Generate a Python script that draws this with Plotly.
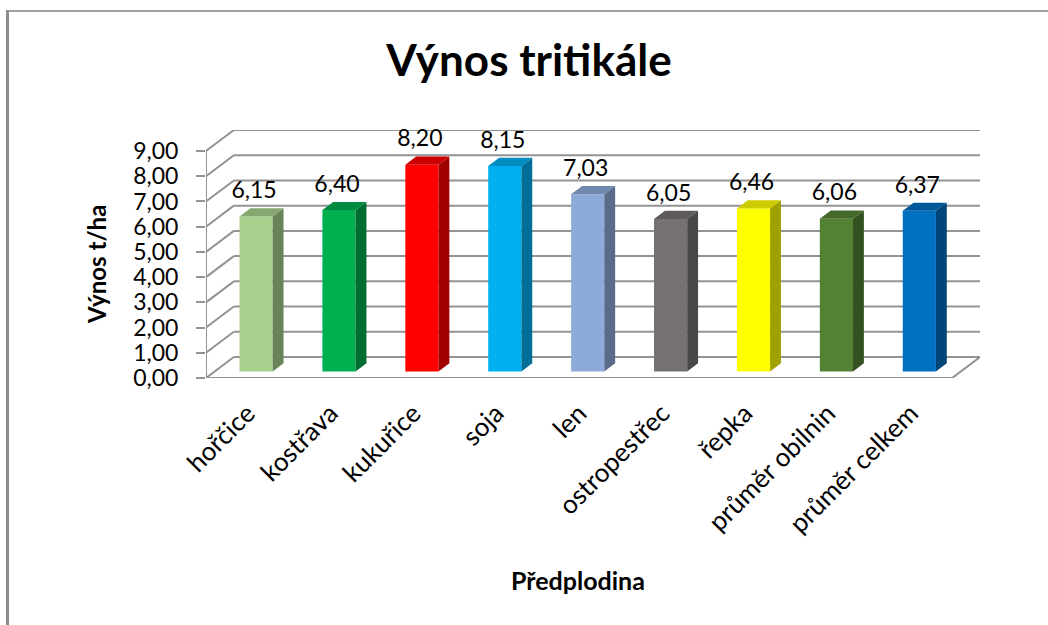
import plotly.graph_objects as go

# chart data
categories = ["hořčice", "kostřava", "kukuřice", "soja", "len", "ostropestřec",
              "řepka", "průměr obilnin", "průměr celkem"]
values = [6.15, 6.40, 8.20, 8.15, 7.03, 6.05, 6.46, 6.06, 6.37]
colors = ["#A9D18E", "#00B050", "#FF0000", "#00B0F0", "#8EAADB",
          "#767171", "#FFFF00", "#548235", "#0070C0"]
y_ticks = [0, 1, 2, 3, 4, 5, 6, 7, 8, 9]

FONT = "Lato"
GRID = "#939393"

# 3D look: how far the back wall is shifted from the front plane (in axis units)
DEPTH_X = 0.336
DEPTH_Y = 0.833
BAR_FRONT = 0.31
BAR_BACK = 0.70
BAR_WIDTH = 0.40

# pixel box of the front axes + depth
L, R, T, B = 206, 980, 130, 378
W, H = 1048, 625


def shade(hex_color, k):
    r, g, b = [int(hex_color[i:i + 2], 16) for i in (1, 3, 5)]
    return f"rgb({int(r * k)},{int(g * k)},{int(b * k)})"


def grid_line(x0, y0, x1, y1):
    return dict(type="line", layer="below", xref="x", yref="y", x0=x0, y0=y0, x1=x1, y1=y1,
                line=dict(color=GRID, width=2))


def paper_line(x0, y0, x1, y1, color, width):
    return dict(type="line", xref="paper", yref="paper",
                x0=(x0 - L) / (R - L), x1=(x1 - L) / (R - L),
                y0=(B - y0) / (B - T), y1=(B - y1) / (B - T),
                line=dict(color=color, width=width))


fig = go.Figure()

n = len(categories)
centers = [i + 0.5 for i in range(n)]
front_x = [c + BAR_FRONT * DEPTH_X for c in centers]
front_y = BAR_FRONT * DEPTH_Y
back_dx = (BAR_BACK - BAR_FRONT) * DEPTH_X
back_dy = (BAR_BACK - BAR_FRONT) * DEPTH_Y

# front faces
fig.add_trace(go.Bar(
    x=front_x,
    y=values,
    base=[front_y] * n,
    width=BAR_WIDTH,
    marker=dict(color=colors, line=dict(width=0)),
    hoverinfo="skip",
    showlegend=False
))

# side and top faces
for x, v, c in zip(front_x, values, colors):
    right = x + BAR_WIDTH / 2
    left = x - BAR_WIDTH / 2
    top = front_y + v
    fig.add_trace(go.Scatter(
        x=[right, right + back_dx, right + back_dx, right, right],
        y=[front_y, front_y + back_dy, top + back_dy, top, front_y],
        mode="lines", fill="toself", fillcolor=shade(c, 0.63),
        line=dict(width=0), hoverinfo="skip", showlegend=False
    ))
    fig.add_trace(go.Scatter(
        x=[left, right, right + back_dx, left + back_dx, left],
        y=[top, top, top + back_dy, top + back_dy, top],
        mode="lines", fill="toself", fillcolor=shade(c, 0.8),
        line=dict(width=0), hoverinfo="skip", showlegend=False
    ))

# value labels
fig.add_trace(go.Scatter(
    x=[c + 0.08 for c in centers],
    y=[front_y + v + 0.95 for v in values],
    text=[f"{v:.2f}".replace(".", ",") for v in values],
    mode="text",
    textposition="middle center",
    textfont=dict(family=FONT, size=23, color="#000000"),
    cliponaxis=False,
    hoverinfo="skip",
    showlegend=False
))

# walls and floor
shapes = []
for t in y_ticks:
    shapes.append(grid_line(0, t, DEPTH_X, t + DEPTH_Y))
    shapes.append(grid_line(DEPTH_X, t + DEPTH_Y, n + DEPTH_X, t + DEPTH_Y))
shapes.append(grid_line(0, 0, 0, y_ticks[-1]))
shapes.append(grid_line(0, 0, n, 0))
shapes.append(grid_line(n, 0, n + DEPTH_X, DEPTH_Y))

# chart border (top and left only are in the picture)
shapes.append(paper_line(7.5, 11, W, 11, "#A0A0A0", 2))
shapes.append(paper_line(7.5, 10, 7.5, H, "#8C8C8C", 3))

fig.update_layout(
    width=W,
    height=H,
    plot_bgcolor="white",
    paper_bgcolor="white",
    margin=dict(l=L, r=W - R, t=T, b=H - B, pad=0),
    separators=", ",
    font=dict(family=FONT, color="#000000"),
    title=dict(
        text="<b>Výnos tritikále</b>",
        x=529 / W,
        xanchor="center",
        y=1 - 61 / H,
        yanchor="middle",
        font=dict(family=FONT, size=44, color="#000000")
    ),
    shapes=shapes,
    annotations=[
        dict(text="<b>Výnos t/ha</b>", textangle=-90, showarrow=False,
             xref="paper", yref="paper", x=(96 - L) / (R - L), y=(B - 265) / (B - T),
             xanchor="center", yanchor="middle",
             font=dict(family=FONT, size=24)),
        dict(text="<b>Předplodina</b>", showarrow=False,
             xref="paper", yref="paper", x=(578 - L) / (R - L), y=(B - 580) / (B - T),
             xanchor="center", yanchor="middle",
             font=dict(family=FONT, size=25)),
    ],
    showlegend=False
)

fig.update_xaxes(
    range=[0, n + DEPTH_X],
    tickmode="array",
    tickvals=centers,
    ticktext=categories,
    tickangle=-45,
    ticks="",
    ticklabelstandoff=14,
    showgrid=False,
    zeroline=False,
    showline=False,
    tickfont=dict(family=FONT, size=26, color="#000000")
)
fig.update_yaxes(
    range=[0, y_ticks[-1] + DEPTH_Y],
    tickmode="array",
    tickvals=y_ticks,
    tickformat=".2f",
    ticks="outside",
    ticklen=9,
    tickwidth=2,
    tickcolor=GRID,
    ticklabelstandoff=13,
    showgrid=False,
    zeroline=False,
    showline=False,
    tickfont=dict(family=FONT, size=23, color="#000000")
)

# page has a default body margin, the figure has to sit at the window corner
fig.write_html(
    "out.html",
    config={"displayModeBar": False},
    post_script="document.body.style.margin='0';document.body.style.overflow='hidden';"
)
